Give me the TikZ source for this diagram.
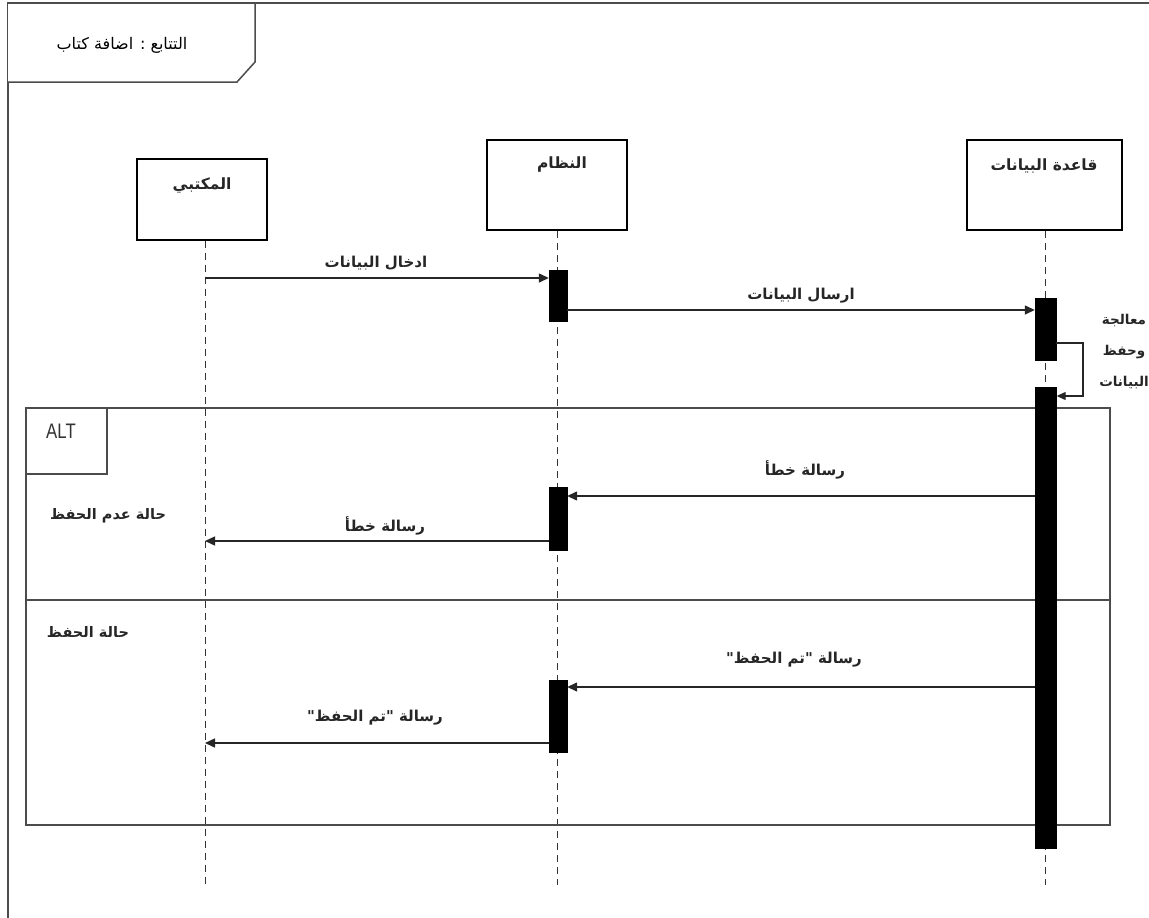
\documentclass[tikz,border=0pt]{standalone}
\usepackage{fontspec}
\usetikzlibrary{arrows.meta,calc}
\TeXXeTstate=1
\newfontfamily\arabicfont[Script=Arabic]{DejaVu Sans}
\newfontfamily\arabicbold[Script=Arabic]{DejaVu Sans Bold}
\setsansfont{Liberation Sans}
\tikzset{
  lifebox/.style={draw=black, line width=1.4pt, fill=white, inner sep=0pt},
  lifelabel/.style={font=\arabicbold\fontsize{15.5}{18}\selectfont, text=black!85},
  lifeline/.style={draw=black!80, line width=1pt, dash pattern=on 7pt off 5pt},
  act/.style={fill=black, draw=black, inner sep=0pt, minimum width=18pt},
  msg/.style={draw=black!85, line width=1.4pt, -{Triangle[length=10pt,width=9pt]}},
  msglabel/.style={font=\arabicbold\fontsize{15}{18}\selectfont, text=black!85},
  framebox/.style={draw=black!70, line width=1.5pt},
  guard/.style={font=\arabicbold\fontsize{14.5}{17}\selectfont, text=black!85},
}
\begin{document}
\begin{tikzpicture}[x=1pt,y=-1pt]
\useasboundingbox (0,0) rectangle (1149,918);
\fill[white] (0,0) rectangle (1149,918);
% outer frame
\draw[framebox] (8,918) -- (8,3) -- (1149,3);
% frame label pentagon
\draw[framebox, fill=white] (8,3) -- (255,3) -- (255,62) -- (237,82) -- (8,82);
\node[font=\arabicfont\fontsize{16}{19}\selectfont] (title) at (122,45) {\beginR التتابع : اضافة كتاب\endR};

% lifeline boxes
\node[lifebox, minimum width=130pt, minimum height=81pt] (lib) at (202,199.5) {};
\node[lifebox, minimum width=140pt, minimum height=90pt] (sys) at (557,185) {};
\node[lifebox, minimum width=155pt, minimum height=90pt] (db) at (1044.5,185) {};
\node[lifelabel] (libL) at (202,186) {\beginR المكتبي\endR};
\node[lifelabel] (sysL) at (562,165) {\beginR النظام\endR};
\node[lifelabel] (dbL) at (1044,166) {\beginR قاعدة البيانات\endR};

% lifeline ends
\coordinate (libE) at (205,885);
\coordinate (sysE) at (557,885);
\coordinate (dbE) at (1045,885);
\draw[lifeline] (lib.south -| libE) -- (libE);
\draw[lifeline] (sys.south -| sysE) -- (sysE);
\draw[lifeline] (db.south -| dbE) -- (dbE);

% ALT frame
\draw[framebox, line width=1.3pt] (26,408) rectangle (1110,825);
\draw[framebox, line width=1.3pt] (26,474) -- (107,474) -- (107,408);
\draw[framebox, line width=1.3pt] (26,600) -- (1110,600);
\node[font=\sffamily\fontsize{21}{24}\selectfont, text=black!80, xscale=0.8] (alt) at (61,431) {ALT};
\node[guard] (g1) at (108,516) {\beginR حالة عدم الحفظ\endR};
\node[guard] (g2) at (88,632) {\beginR حالة الحفظ\endR};

% activations
\node[act, minimum height=51pt] (aS1) at (558,296) {};
\node[act, minimum height=62pt, minimum width=21pt] (aD1) at (1045.5,329) {};
\node[act, minimum height=461pt, minimum width=21pt] (aD2) at (1046,617.5) {};
\node[act, minimum height=63pt] (aS2) at (558,518.5) {};
\node[act, minimum height=72pt] (aS3) at (558,716) {};

% messages
\coordinate (m1s) at (205,278);
\draw[msg] (m1s) -- (aS1.west |- m1s);
\node[msglabel] (m1L) at (376,263) {\beginR ادخال البيانات\endR};

\coordinate (m2s) at (567,310);
\draw[msg] (m2s) -- (aD1.west |- m2s);
\node[msglabel] (m2L) at (801,296) {\beginR ارسال البيانات\endR};

% self call
\coordinate (sc1) at (1056,343);
\coordinate (sc2) at (1083,343);
\coordinate (sc3) at (1083,396);
\draw[draw=black!85, line width=1.2pt, -{Triangle[length=9pt,width=8pt]}] (sc1) -- (sc2) -- (sc3) -- (aD2.east |- sc3);
\node[msglabel, align=center, font=\arabicbold\fontsize{13.5}{31}\selectfont] (scL) at (1124,352) {\beginR معالجة\endR\\\beginR وحفظ\endR\\\beginR البيانات\endR};

\coordinate (m3s) at (1035,496);
\draw[msg] (m3s) -- (aS2.east |- m3s);
\node[msglabel] (m3L) at (805,470) {\beginR رسالة خطأ\endR};

\coordinate (m4s) at (549,541);
\draw[msg] (m4s) -- (libE |- m4s);
\node[msglabel] (m4L) at (385,526) {\beginR رسالة خطأ\endR};

\coordinate (m5s) at (1035,687);
\draw[msg] (m5s) -- (aS3.east |- m5s);
\node[msglabel] (m5L) at (794,660) {\beginR رسالة "تم الحفظ"\endR};

\coordinate (m6s) at (549,743);
\draw[msg] (m6s) -- (libE |- m6s);
\node[msglabel] (m6L) at (375,718) {\beginR رسالة "تم الحفظ"\endR};
\end{tikzpicture}
\end{document}
